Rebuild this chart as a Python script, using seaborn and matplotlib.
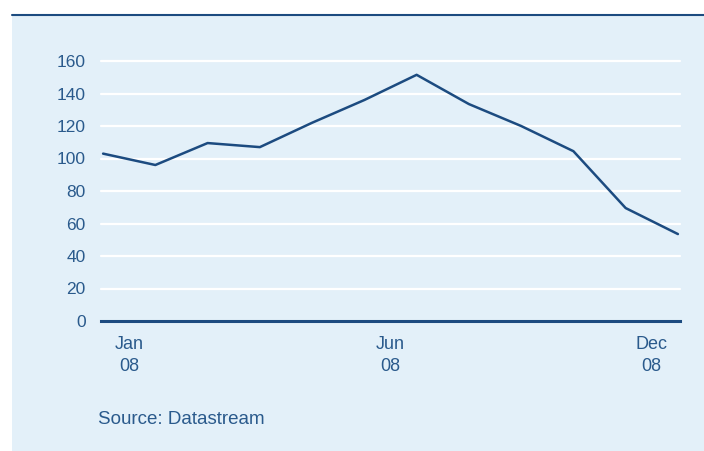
import matplotlib
matplotlib.use("Agg")
import matplotlib.pyplot as plt
from matplotlib.patches import Rectangle
from matplotlib.lines import Line2D
import seaborn as sns
import pandas as pd

months = ["Jan", "Feb", "Mar", "Apr", "May", "Jun", "Jul", "Aug", "Sep", "Oct", "Nov", "Dec"]
values = [103, 96, 109.5, 107, 122, 136, 151.5, 133.5, 120, 104.5, 69.5, 53.5]
tick_labels = ["Jan\n08", "Jun\n08", "Dec\n08"]
tick_pos = [0.5, 5.5, 10.5]
yticks = [0, 20, 40, 60, 80, 100, 120, 140, 160]
source = "Source: Datastream"

BG = "#e3f0f9"
NAVY = "#1c4b80"
TXT = "#2a5a8c"

sns.set_theme(style="white")
plt.rcParams["font.family"] = ["Liberation Sans", "DejaVu Sans"]

W, H = 704, 451
fig = plt.figure(figsize=(W / 100, H / 100), dpi=100, facecolor="white")
fig.patches.append(Rectangle((12 / W, 0), 1 - 12 / W, 1 - 15 / H, transform=fig.transFigure,
                             facecolor=BG, edgecolor="none", zorder=-10))
fig.lines.append(Line2D([12 / W, 1], [1 - 15 / H, 1 - 15 / H], transform=fig.transFigure,
                        color=NAVY, lw=1.5, zorder=-5))

ax = fig.add_axes([101 / W, 1 - 321 / H, (680 - 101) / W, (321 - 61) / H])
ax.set_zorder(5)
ax.patch.set_alpha(0)

df = pd.DataFrame({"m": range(len(months)), "v": values})
sns.lineplot(data=df, x="m", y="v", ax=ax, color=NAVY, lw=1.8, zorder=3)

ax.set_xlim(-0.04, 11.04)
ax.set_ylim(0, 160)
ax.set_yticks(yticks)
ax.set_yticklabels([str(t) for t in yticks])
ax.set_xticks(tick_pos)
ax.set_xticklabels(tick_labels)
for lab in ax.get_xticklabels():
    lab.set_linespacing(1.4)
ax.tick_params(axis="y", length=0, pad=11, labelsize=12.5, labelcolor=TXT)
ax.tick_params(axis="x", length=0, pad=11, labelsize=13, labelcolor=TXT)
ax.set_xlabel("")
ax.set_ylabel("")
for t in yticks[1:]:
    ax.axhline(t, color="white", lw=1.6, zorder=1, clip_on=False)
for s in ["top", "right", "left"]:
    ax.spines[s].set_visible(False)
ax.spines["bottom"].set_color(NAVY)
ax.spines["bottom"].set_linewidth(2.2)
ax.spines["bottom"].set_zorder(4)

fig.text(98 / W, 1 - 419 / H, source, color=TXT, fontsize=13.5, va="center", ha="left")

fig.savefig("out.png", dpi=100, facecolor="white")
